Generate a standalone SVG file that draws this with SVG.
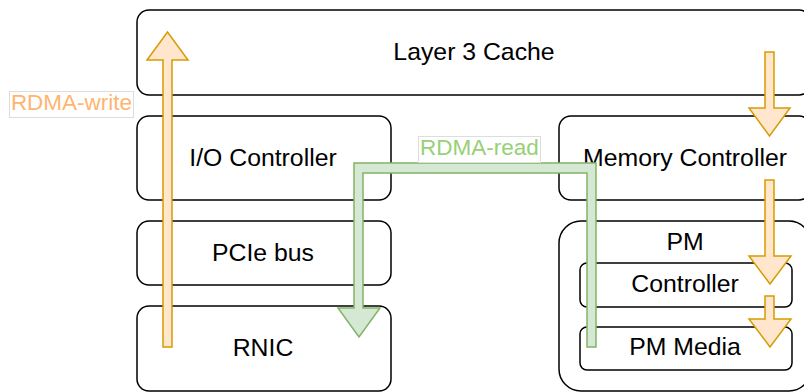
<svg xmlns="http://www.w3.org/2000/svg" width="804" height="392" viewBox="0 0 804 392">
  <style>
    .box { fill: #ffffff; stroke: #000000; stroke-width: 1.5; }
    .lbl { font-family: "Liberation Sans", Arial, Helvetica, sans-serif; font-size: 24.8px; fill: #000000; text-anchor: middle; }
    .tag { font-family: "Liberation Sans", Arial, Helvetica, sans-serif; font-size: 22.5px; text-anchor: middle; }
    .tagbox { fill: #ffffff; stroke: #dddddd; stroke-width: 1; }
    .orange { fill: #ffe6cc; stroke: #d79b00; stroke-width: 1.5; stroke-linejoin: miter; }
    .green { fill: #d5e8d4; stroke: #82b366; stroke-width: 1.5; stroke-linejoin: miter; }
  </style>
  <rect width="804" height="392" fill="#ffffff"/>

  <g id="l3-cache">
    <rect class="box" x="137" y="10" width="674" height="85" rx="12"/>
    <text class="lbl" x="474" y="60">Layer 3 Cache</text>
  </g>
  <g id="io-controller">
    <rect class="box" x="137" y="116" width="254" height="84" rx="12"/>
    <text class="lbl" x="263" y="166">I/O Controller</text>
  </g>
  <g id="pcie-bus">
    <rect class="box" x="137" y="221" width="254" height="64" rx="12"/>
    <text class="lbl" x="263" y="261">PCIe bus</text>
  </g>
  <g id="rnic">
    <rect class="box" x="137" y="306" width="254" height="85" rx="12"/>
    <text class="lbl" x="263" y="356">RNIC</text>
  </g>
  <g id="memory-controller">
    <rect class="box" x="559" y="116" width="252" height="84" rx="12"/>
    <text class="lbl" x="685" y="166">Memory Controller</text>
  </g>
  <g id="pm">
    <rect class="box" x="559" y="221" width="252" height="170" rx="22"/>
    <text class="lbl" x="685" y="250">PM</text>
  </g>
  <g id="pm-controller">
    <rect class="box" x="580" y="263" width="212" height="44" rx="7"/>
    <text class="lbl" x="685" y="292">Controller</text>
  </g>
  <g id="pm-media">
    <rect class="box" x="580" y="327" width="212" height="43" rx="7"/>
    <text class="lbl" x="685" y="355">PM Media</text>
  </g>

  <g id="connectors">
    <!-- RDMA write: RNIC up to the L3 cache -->
    <polygon class="orange" points="163,347 172,347 172,60 188,60 167.5,32 147,60 163,60"/>
    <!-- L3 cache down to the memory controller -->
    <polygon class="orange" points="765,52 774,52 774,108 790,108 769.5,136 749,108 765,108"/>
    <!-- memory controller down to the PM controller -->
    <polygon class="orange" points="765,180 774,180 774,256 791,256 770,284 749,256 765,256"/>
    <!-- PM controller down to the PM media -->
    <polygon class="orange" points="765,296 774,296 774,319 791,319 770,347 749,319 765,319"/>
    <!-- RDMA read: PM media over to the RNIC -->
    <polygon class="green" points="596,347 596,163 354,163 354,308 338,308 359,337 380,308 363,308 363,173 587,173 587,347"/>
  </g>

  <g id="label-rdma-write">
    <rect class="tagbox" x="9.5" y="91.5" width="124" height="26"/>
    <text class="tag" x="71.5" y="110" fill="#ffb570">RDMA-write</text>
  </g>
  <g id="label-rdma-read">
    <rect class="tagbox" x="418.5" y="136.5" width="122" height="26"/>
    <text class="tag" x="479.5" y="155" fill="#97d077">RDMA-read</text>
  </g>
</svg>
